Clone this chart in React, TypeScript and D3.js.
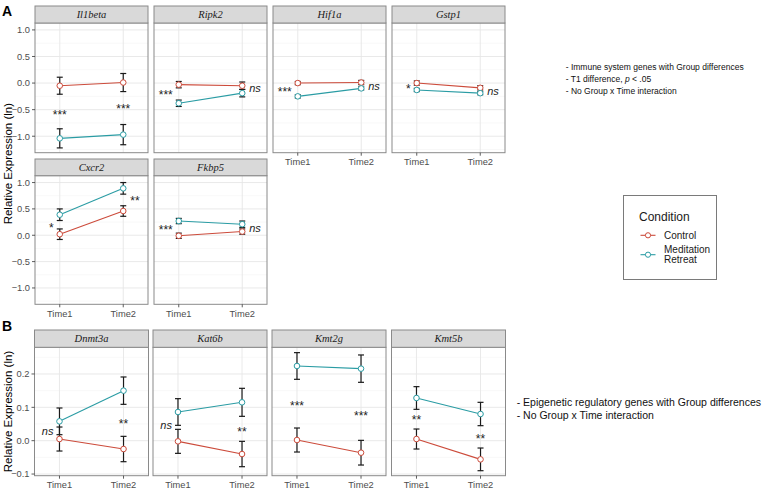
import React from "react";
import * as d3 from "d3";

// ---------- DATA ----------
const times = ["Time1", "Time2"];
const conditions = ["Control", "Meditation Retreat"];

const genesA = ["Il1beta", "Ripk2", "Hif1a", "Gstp1", "Cxcr2", "Fkbp5"];
const controlMeanA = [[-0.05, 0.01], [-0.03, -0.05], [0.0, 0.01], [0.0, -0.09], [0.02, 0.46], [-0.01, 0.07]];
const controlSeA = [[0.16, 0.17], [0.06, 0.07], [0.03, 0.04], [0.04, 0.04], [0.1, 0.1], [0.05, 0.05]];
const meditationMeanA = [[-1.04, -0.97], [-0.38, -0.19], [-0.25, -0.1], [-0.13, -0.19], [0.39, 0.89], [0.27, 0.21]];
const meditationSeA = [[0.18, 0.19], [0.06, 0.07], [0.03, 0.03], [0.03, 0.03], [0.11, 0.11], [0.05, 0.06]];
// significance labels: [label, time index, value, placement]
const sigA: [string, number, number, string][][] = [
  [["***", 0, -0.57, "center"], ["***", 1, -0.46, "center"]],
  [["***", 0, -0.19, "left"], ["ns", 1, -0.1, "right"]],
  [["***", 0, -0.14, "left"], ["ns", 1, -0.06, "right"]],
  [["*", 0, -0.09, "left"], ["ns", 1, -0.15, "right"]],
  [["*", 0, 0.17, "left"], ["**", 1, 0.67, "right"]],
  [["***", 0, 0.12, "left"], ["ns", 1, 0.13, "right"]],
];
const yTicksA = [-1.0, -0.5, 0.0, 0.5, 1.0];
const yMinorA = [-1.25, -0.75, -0.25, 0.25, 0.75];

const genesB = ["Dnmt3a", "Kat6b", "Kmt2g", "Kmt5b"];
const controlMeanB = [[0.005, -0.025], [-0.002, -0.04], [0.002, -0.036], [0.005, -0.056]];
const controlSeB = [[0.036, 0.038], [0.036, 0.038], [0.036, 0.037], [0.03, 0.034]];
const meditationMeanB = [[0.058, 0.15], [0.086, 0.115], [0.224, 0.216], [0.128, 0.08]];
const meditationSeB = [[0.04, 0.041], [0.04, 0.042], [0.04, 0.041], [0.034, 0.035]];
const sigB: [string, number, number, string][][] = [
  [["ns", 0, 0.029, "left"], ["**", 1, 0.055, "center"]],
  [["ns", 0, 0.047, "left"], ["**", 1, 0.03, "center"]],
  [["***", 0, 0.109, "center"], ["***", 1, 0.079, "center"]],
  [["**", 0, 0.067, "center"], ["**", 1, 0.01, "center"]],
];
const yTicksB = [-0.1, 0.0, 0.1, 0.2];
const yMinorB = [-0.05, 0.05, 0.15, 0.25];

const notesA = ["- Immune system genes with Group differences", "- T1 difference, ", "- No Group x Time interaction"];
const notesB = ["- Epigenetic regulatory genes with Group differences", "- No Group x Time interaction"];

// ---------- STYLE ----------
const COL_CONTROL = "#cc4b3b";
const COL_MED = "#2a9ca4";
const COLS = [COL_CONTROL, COL_MED];
const SANS = "'Liberation Sans', Arial, sans-serif";
const SERIF = "'Liberation Serif', 'Times New Roman', serif";

interface PanelProps {
  gene: string;
  x0: number;
  width: number;
  stripTop: number;
  plotTop: number;
  plotBottom: number;
  domain: [number, number];
  means: number[][]; // [cond][time]
  ses: number[][];
  sig: [string, number, number, string][];
  majors: number[];
  minors: number[];
  showY: boolean;
  showX: boolean;
  fmt: (v: number) => string;
}

function Panel(p: PanelProps) {
  const x = d3.scalePoint<string>().domain(times).range([p.x0, p.x0 + p.width]).padding(0.39);
  const y = d3.scaleLinear().domain(p.domain).range([p.plotBottom, p.plotTop]);
  const line = d3
    .line<number>()
    .x((_, i) => x(times[i]) as number)
    .y((d) => y(d));
  const capW = 3;
  return (
    <g>
      <rect x={p.x0} y={p.plotTop} width={p.width} height={p.plotBottom - p.plotTop} fill="#fff" />
      {p.minors.map((v) => (
        <line key={"mn" + v} x1={p.x0} x2={p.x0 + p.width} y1={y(v)} y2={y(v)} stroke="#f3f3f3" strokeWidth={0.6} />
      ))}
      {p.majors.map((v) => (
        <line key={"mj" + v} x1={p.x0} x2={p.x0 + p.width} y1={y(v)} y2={y(v)} stroke="#e6e6e6" strokeWidth={0.9} />
      ))}
      {times.map((t) => (
        <line key={"vx" + t} x1={x(t)} x2={x(t)} y1={p.plotTop} y2={p.plotBottom} stroke="#e6e6e6" strokeWidth={0.9} />
      ))}
      {p.means.map((m, ci) => (
        <path key={"ln" + ci} d={line(m) || ""} fill="none" stroke={COLS[ci]} strokeWidth={1.1} />
      ))}
      {p.means.map((m, ci) =>
        m.map((v, ti) => {
          const cx = x(times[ti]) as number;
          const lo = y(v - p.ses[ci][ti]);
          const hi = y(v + p.ses[ci][ti]);
          return (
            <g key={"eb" + ci + ti} stroke="#1a1a1a" strokeWidth={1.2}>
              <line x1={cx} x2={cx} y1={lo} y2={hi} />
              <line x1={cx - capW} x2={cx + capW} y1={lo} y2={lo} />
              <line x1={cx - capW} x2={cx + capW} y1={hi} y2={hi} />
            </g>
          );
        })
      )}
      {p.means.map((m, ci) =>
        m.map((v, ti) => (
          <circle key={"pt" + ci + ti} cx={x(times[ti])} cy={y(v)} r={2.8} fill="#fff" stroke={COLS[ci]} strokeWidth={1} />
        ))
      )}
      {p.sig.map(([lab, ti, v, place], i) => {
        const cx = x(times[ti]) as number;
        const isNs = lab === "ns";
        let tx = cx;
        let anchor: "start" | "middle" | "end" = "middle";
        if (place === "left") {
          tx = cx - 6;
          anchor = "end";
        } else if (place === "right") {
          tx = cx + 7;
          anchor = "start";
        }
        return (
          <text
            key={"sg" + i}
            x={tx}
            y={y(v) + (isNs ? 3.5 : 5.5)}
            textAnchor={anchor}
            fontFamily={SANS}
            fontSize={isNs ? 11 : 12}
            fontStyle={isNs ? "italic" : "normal"}
            fill="#222"
          >
            {lab}
          </text>
        );
      })}
      <rect x={p.x0} y={p.plotTop} width={p.width} height={p.plotBottom - p.plotTop} fill="none" stroke="#8a8a8a" strokeWidth={1} />
      <rect x={p.x0} y={p.stripTop} width={p.width} height={p.plotTop - p.stripTop} fill="#d9d9d9" stroke="#8a8a8a" strokeWidth={1} />
      <text
        x={p.x0 + p.width / 2}
        y={(p.stripTop + p.plotTop) / 2 + 3.5}
        textAnchor="middle"
        fontFamily={SERIF}
        fontStyle="italic"
        fontSize={10.5}
        fill="#1a1a1a"
      >
        {p.gene}
      </text>
      {p.showY &&
        p.majors.map((v) => (
          <g key={"yt" + v}>
            <line x1={p.x0 - 3} x2={p.x0} y1={y(v)} y2={y(v)} stroke="#333" strokeWidth={0.8} />
            <text x={p.x0 - 5} y={y(v) + 3.3} textAnchor="end" fontFamily={SANS} fontSize={9.3} fill="#4d4d4d">
              {p.fmt(v)}
            </text>
          </g>
        ))}
      {p.showX &&
        times.map((t) => (
          <g key={"xt" + t}>
            <line x1={x(t)} x2={x(t)} y1={p.plotBottom} y2={p.plotBottom + 3} stroke="#333" strokeWidth={0.8} />
            <text x={x(t)} y={p.plotBottom + 12.5} textAnchor="middle" fontFamily={SANS} fontSize={9.3} fill="#4d4d4d">
              {t}
            </text>
          </g>
        ))}
    </g>
  );
}

export default function App() {
  const W = 765;
  const H = 489;
  const fmt1 = d3.format(".1f");
  const xLeftA = [35, 154, 273, 392];
  const rowsA = [
    { strip: 6, top: 23, bottom: 152.7 },
    { strip: 159, top: 175.7, bottom: 304.3 },
  ];
  const xLeftB = [34.5, 153, 272, 391.5];
  const rowB = { strip: 330, top: 347.3, bottom: 475.7 };
  const domainA: [number, number] = [-1.31, 1.13];
  const domainB: [number, number] = [-0.105, 0.28];

  return (
    <svg
      width={W}
      height={H}
      viewBox={`0 0 ${W} ${H}`}
      style={{ position: "absolute", left: 0, top: 0, background: "#fff" }}
    >
      <rect x={0} y={0} width={W} height={H} fill="#fff" />
      <text x={2} y={16} fontFamily={SANS} fontWeight="bold" fontSize={14} fill="#000">A</text>
      <text x={2} y={331} fontFamily={SANS} fontWeight="bold" fontSize={14} fill="#000">B</text>

      {genesA.map((g, i) => {
        const row = Math.floor(i / 4);
        const col = i % 4;
        const r = rowsA[row];
        return (
          <Panel
            key={g}
            gene={g}
            x0={xLeftA[col]}
            width={113}
            stripTop={r.strip}
            plotTop={r.top}
            plotBottom={r.bottom}
            domain={domainA}
            means={[controlMeanA[i], meditationMeanA[i]]}
            ses={[controlSeA[i], meditationSeA[i]]}
            sig={sigA[i]}
            majors={yTicksA}
            minors={yMinorA}
            showY={col === 0}
            showX={row === 1 || col >= 2}
            fmt={fmt1}
          />
        );
      })}
      <text
        transform={`translate(12, ${(rowsA[0].top + rowsA[1].bottom) / 2}) rotate(-90)`}
        textAnchor="middle"
        fontFamily={SANS}
        fontSize={11.5}
        fill="#000"
      >
        Relative Expression (ln)
      </text>

      {genesB.map((g, i) => (
        <Panel
          key={g}
          gene={g}
          x0={xLeftB[i]}
          width={114}
          stripTop={rowB.strip}
          plotTop={rowB.top}
          plotBottom={rowB.bottom}
          domain={domainB}
          means={[controlMeanB[i], meditationMeanB[i]]}
          ses={[controlSeB[i], meditationSeB[i]]}
          sig={sigB[i]}
          majors={yTicksB}
          minors={yMinorB}
          showY={i === 0}
          showX={true}
          fmt={fmt1}
        />
      ))}
      <text
        transform={`translate(12, ${(rowB.top + rowB.bottom) / 2}) rotate(-90)`}
        textAnchor="middle"
        fontFamily={SANS}
        fontSize={11.5}
        fill="#000"
      >
        Relative Expression (ln)
      </text>

      {/* Legend */}
      <rect x={623.5} y={195.5} width={93} height={84} fill="#fff" stroke="#7a7a7a" strokeWidth={1} />
      <text x={639} y={221} fontFamily={SANS} fontSize={12} fill="#1a1a1a">Condition</text>
      {conditions.map((c, i) => {
        const ky = i === 0 ? 235.3 : 254.7;
        return (
          <g key={c}>
            <line x1={640.5} x2={655.5} y1={ky} y2={ky} stroke={COLS[i]} strokeWidth={1.1} />
            <circle cx={648} cy={ky} r={2.6} fill="#fff" stroke={COLS[i]} strokeWidth={1} />
            {i === 0 ? (
              <text x={664} y={ky + 3.5} fontFamily={SANS} fontSize={10} fill="#1a1a1a">{c}</text>
            ) : (
              <text x={664} y={ky - 1.3} fontFamily={SANS} fontSize={10} fill="#1a1a1a">
                <tspan x={664}>{c.split(" ")[0]}</tspan>
                <tspan x={664} dy={9.6}>{c.split(" ")[1]}</tspan>
              </text>
            )}
          </g>
        );
      })}

      {/* Notes A */}
      <g fontFamily={SANS} fontSize={8.5} fill="#111">
        <text x={565.7} y={69.8}>{notesA[0]}</text>
        <text x={565.7} y={82}>
          {notesA[1]}
          <tspan fontStyle="italic">p</tspan>
          <tspan>{" < .05"}</tspan>
        </text>
        <text x={565.7} y={93.6}>{notesA[2]}</text>
      </g>
      {/* Notes B */}
      <g fontFamily={SANS} fontSize={10.5} fill="#111">
        <text x={516.7} y={405.5}>{notesB[0]}</text>
        <text x={516.7} y={419}>{notesB[1]}</text>
      </g>
    </svg>
  );
}
